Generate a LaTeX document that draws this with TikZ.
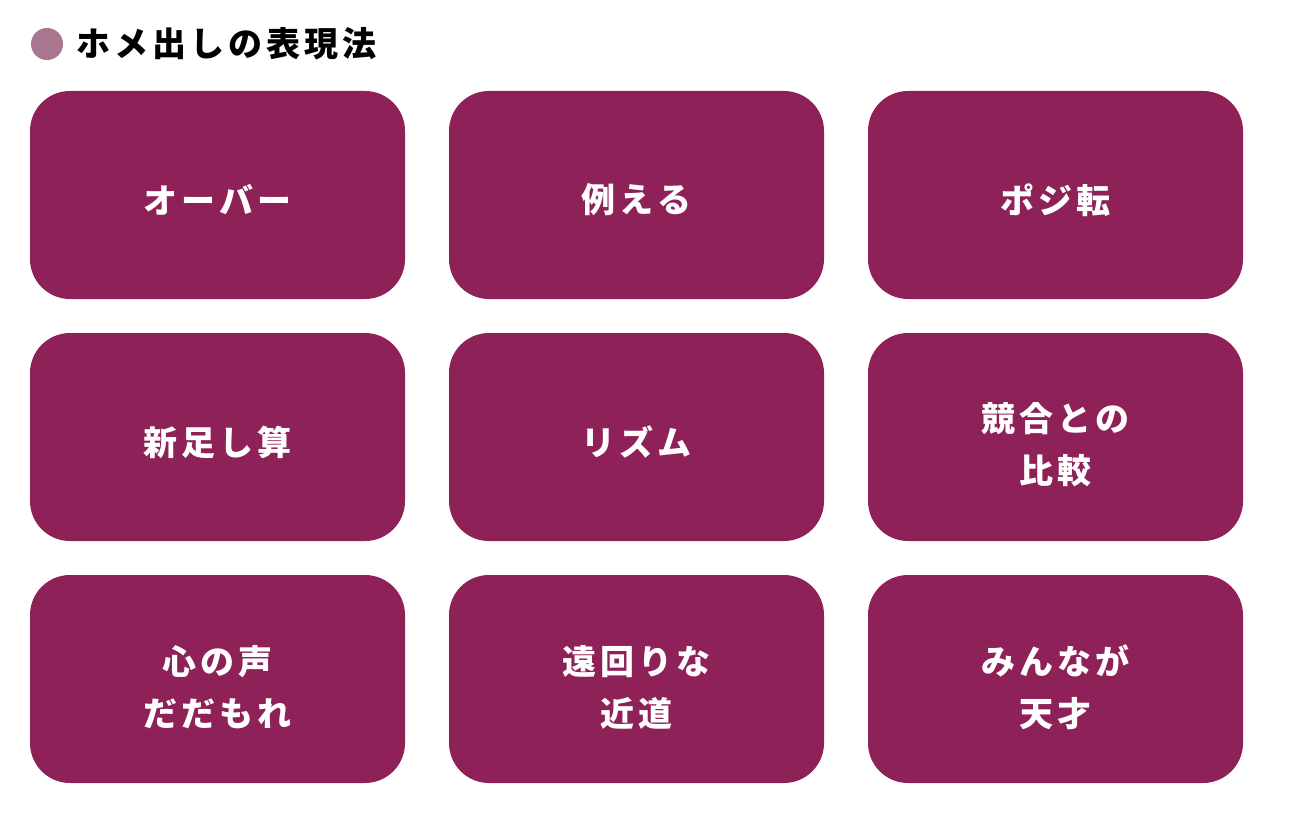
\documentclass[tikz,border=0pt]{standalone}
\usepackage{fontspec}
\newfontfamily\jp[LetterSpace=12]{Noto Sans CJK JP}
\definecolor{boxc}{HTML}{8E2158}
\definecolor{dotc}{HTML}{A8778F}
\begin{document}
\begin{tikzpicture}[x=1pt,y=-1pt,
  cell/.style={fill=boxc,rounded corners=40pt,draw=none},
  lab/.style={text=white,font=\jp\bfseries\fontsize{34}{52}\selectfont,align=center}]
\useasboundingbox (0,0) rectangle (1292,824);
\fill[dotc] (47,44) circle (16) node[coordinate](dot){};
\node[anchor=west,font=\jp\bfseries\fontsize{34}{40}\selectfont,inner sep=0] (title) at (76,44) {ホメ出しの表現法};
\foreach \r/\y in {0/91,1/333,2/575}{
 \foreach \c/\x in {0/30,1/449,2/868}{
  \fill[cell] (\x,\y) rectangle ++(375,208);
 }}
\node[lab] (a) at (217.5,200) {オーバー};
\node[lab] (b) at (636.5,200) {例える};
\node[lab] (c) at (1055.5,200) {ポジ転};
\node[lab] (d) at (217.5,442) {新足し算};
\node[lab] (e) at (636.5,442) {リズム};
\node[lab] (f) at (1055.5,445) {競合との\\比較};
\node[lab] (g) at (217.5,687) {心の声\\だだもれ};
\node[lab] (h) at (636.5,687) {遠回りな\\近道};
\node[lab] (i) at (1055.5,687) {みんなが\\天才};
\end{tikzpicture}
\end{document}
